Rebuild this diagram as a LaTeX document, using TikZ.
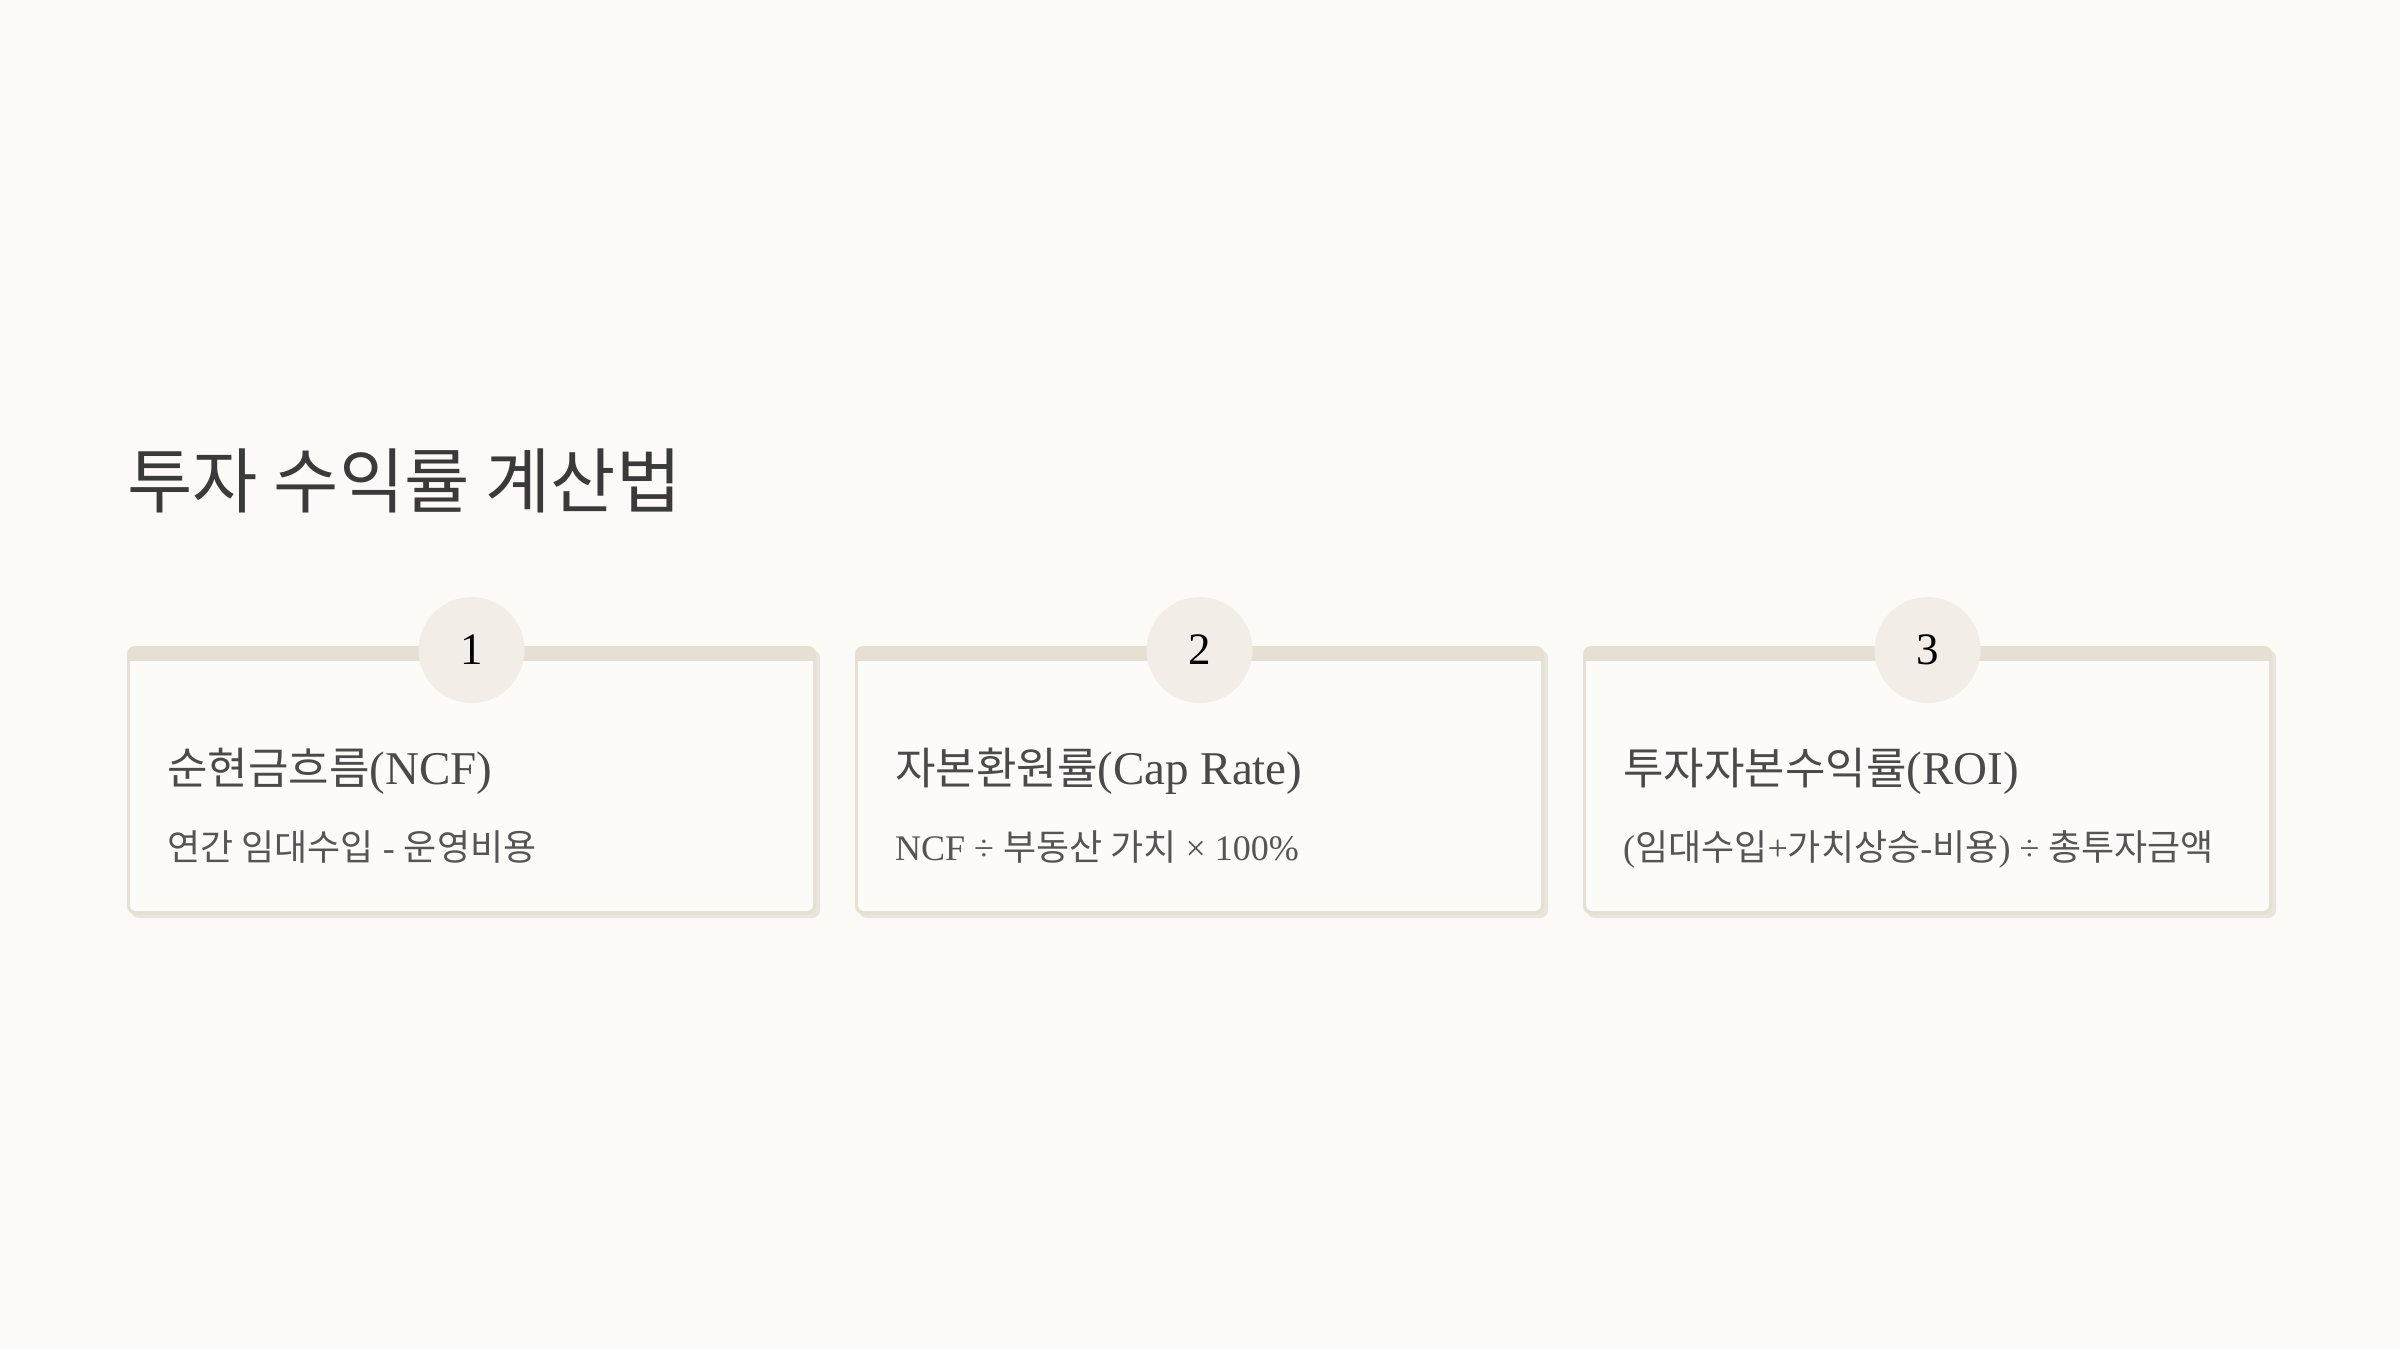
\documentclass[tikz,border=0pt]{standalone}
\usepackage{fontspec}
\setmainfont{Liberation Serif}
\newfontfamily\krfont{Noto Sans CJK KR}
\newcommand\kr[1]{{\krfont #1}}
\newcommand\krh[1]{{\fontsize{44}{48}\selectfont\krfont #1}}
\definecolor{bg}{HTML}{FBFAF6}
\definecolor{cardbg}{HTML}{FCFBF8}
\definecolor{edge}{HTML}{E6DFD4}
\definecolor{shadowc}{HTML}{E9E4DC}
\definecolor{circ}{HTML}{F2EEE7}
\definecolor{titlec}{HTML}{3A3A3A}
\definecolor{headc}{HTML}{4A4A4A}
\definecolor{subc}{HTML}{555555}
\tikzset{
  numc/.style={circle, fill=circ, minimum size=106pt, inner sep=0pt, text=black, font=\fontsize{45}{45}\selectfont},
  headt/.style={anchor=base west, inner sep=0pt, text=headc, font=\fontsize{47}{50}\selectfont},
  subt/.style={anchor=base west, inner sep=0pt, text=subc, font=\fontsize{36}{40}\selectfont},
  titlet/.style={anchor=base west, inner sep=0pt, text=titlec, font=\fontsize{71}{76}\selectfont}
}
\newcommand\card[4]{%
  \fill[shadowc, rounded corners=8pt] (#1+4,650) rectangle (#1+693,918);
  \fill[edge, rounded corners=8pt] (#1,646) rectangle (#1+689,914);
  \fill[cardbg, rounded corners=6pt] (#1+3,661) rectangle (#1+686,911);
  \fill[cardbg] (#1+3,661) rectangle (#1+686,690);
  \node[numc] (n#2) at (#1+344.5,650) {#2};
  \node[headt] (h#2) at (#1+40,784) {#3};
  \node[subt] (s#2) at (#1+40,860) {#4};
}
\begin{document}
\begin{tikzpicture}[x=1pt,y=-1pt]
\fill[bg] (0,0) rectangle (2400,1350);
\useasboundingbox (0,0) rectangle (2400,1350);
\node[titlet] (title) at (127,507) {\kr{투자 수익률 계산법}};
\card{127}{1}{\krh{순현금흐름}(NCF)}{\kr{연간 임대수입} - \kr{운영비용}}
\card{855}{2}{\krh{자본환원률}(Cap Rate)}{NCF ÷ \kr{부동산 가치} × 100\%}
\card{1583}{3}{\krh{투자자본수익률}(ROI)}{(\kr{임대수입}+\kr{가치상승}-\kr{비용}) ÷ \kr{총투자금액}}
\end{tikzpicture}
\end{document}
